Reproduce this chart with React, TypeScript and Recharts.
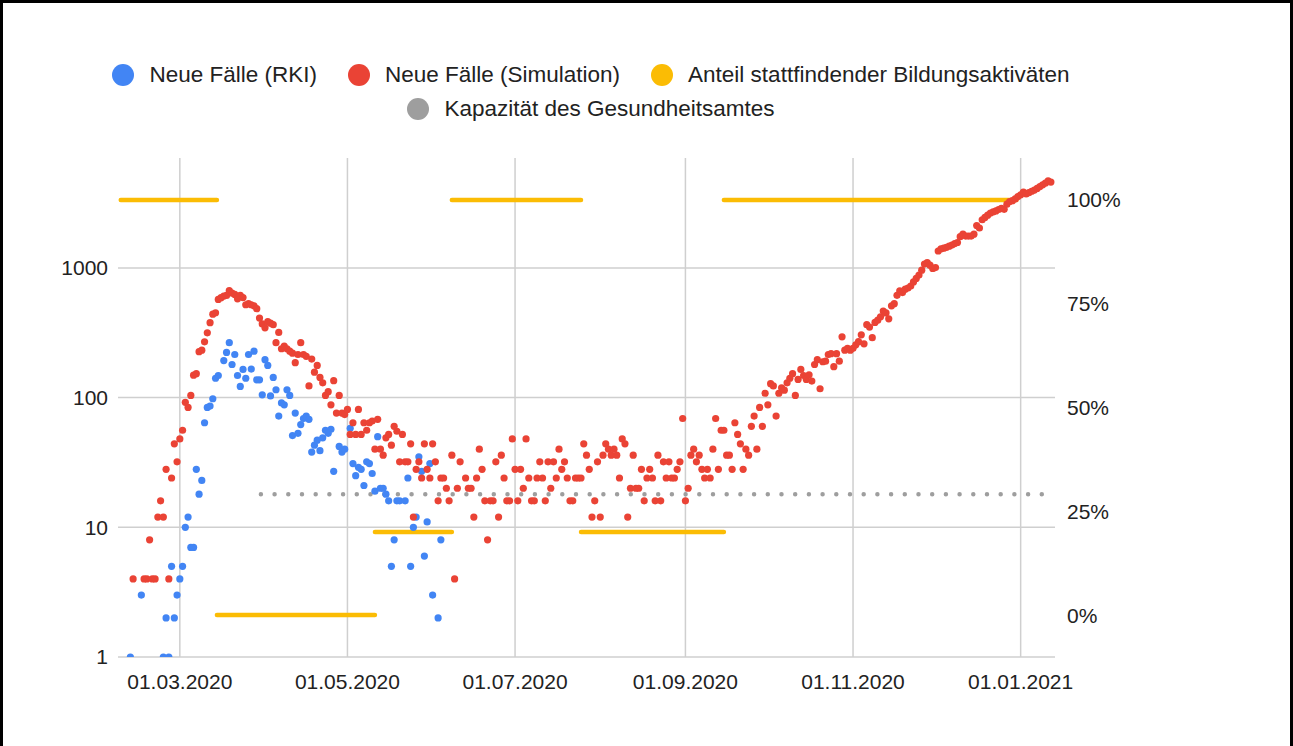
import React from 'react';
import { ComposedChart, Scatter, Line, XAxis, YAxis, CartesianGrid } from 'recharts';

// days are counted from 01.03.2020 (day 0)
const rkiFirstDay = -18;
const rkiCases = [
    1, null, null, null, 3, null, null, null, null, null, null, null, 1, 2, 1, 5, 2, 3,
    4, 5, 10, 12, 7, 7, 28, 18, 23, 64,
    84, 86, 98, 141, 148, null, 193, 223, 265, 180,
    215, 148, 122, 165, 141, 215, 166, 228, 137, 137,
    105, 196, 177, 103, 143, 115, 72, 91, 88, 115,
    104, 51, 76, 53, 62, 69, 72, 68, 38, 43,
    47, 39, 49, 56, 53, 57, 27, null, 42, 38,
    40, null, 58, 31, 25, 29, 28, 21, 32, 31,
    26, 19, 50, 20, 20, 18, 16, 5, 8, 16,
    16, null, 16, 24, 5, 10, 12, 35, 27, 6,
    11, 31, 3, null, 2, 8,
];

const simFirstDay = -17;
const simCases = [
    4, null, null, null, 4, 4, 8, 4, 4, 12, 16, 12, 28, 4, 24, 44, 32,
    48, 56, 92, 84, 104, 149, 153, 226, 232, 269,
    316, 378, 440, 451, 571, 589, 606, 613, 667, 640,
    624, 578, 613, 590, 520, 530, 520, 510, 485, 410,
    370, 345, 385, 375, 365, 265, 318, 238, 250, 238,
    228, 220, 186, 215, 265, 215, 208, 123, 198, 157,
    177, 143, 130, 104, 111, 88, 135, 76, 104, 76,
    74, 81, 52, 64, 52, 81, 52, 64, 56, 64,
    66, 40, 68, 40, 36, 49, 52, 43, 60, 55,
    32, 52, 32, 32, 44, 12, 28, 32, 24, 44,
    28, 24, 44, 32, 16, 24, 24, 20, 16, 36,
    4, 20, 32, null, 24, 20, 20, 12, 24, 40,
    28, 16, 8, 16, 16, 32, 12, 36, 24, 16,
    16, 48, 28, 16, 28, 20, 48, 24, 16, 16,
    24, 32, 24, 16, 32, 20, 32, 24, 40, 28,
    32, 24, 16, 16, 24, 24, 24, 44, 36, 28,
    12, 16, 32, 12, 36, 44, 40, 36, 40, 36,
    24, 48, 44, 12, 20, 36, 20, 20, 28, 16,
    24, 28, 24, 16, 36, 16, 32, 24, 32, 24,
    24, 28, 32, 69, 16, 20, 36, 40, 32, 36,
    28, 24, 28, 24, 40, 69, 28, 56, 56, 36,
    36, 28, 64, 52, 44, 28, 40, 36, 60, 72,
    40, 84, 60, 108, 88, 128, 123, 72, 108, 119,
    114, 130, 141, 153, 104, 138, 165, 148, 138, 150,
    134, 180, 196, 117, 189, 191, 215, 218, 173, 218,
    191, 294, 232, 240, 232, 240, 255, 270, 305, 260,
    365, 350, 290, 380, 395, 420, 465, 450, 405, 510,
    530, 615, 665, 645, 685, 700, 725, 780, 830, 880,
    960, 1070, 1100, 1050, 990, 1005, 1350, 1400, 1420, 1440,
    1470, 1500, 1540, 1570, 1740, 1820, 1760, 1760, 1760, 1820,
    2120, 2030, 2350, 2450, 2550, 2650, 2700, 2750, 2820, 2880,
    2830, 3100, 3250, 3300, 3400, 3550, 3660, 3840, 3720, 3800,
    3900, 3980, 4100, 4240, 4370, 4500, 4700, 4590,
];

// share of education activities taking place (%), as periods
const educationPeriods = [
    { from: -21.5, to: 13.5, share: 100 },
    { from: 13.5, to: 71, share: 0 },
    { from: 71, to: 99, share: 20 },
    { from: 99, to: 146, share: 100 },
    { from: 146, to: 198, share: 20 },
    { from: 198, to: 304.5, share: 100 },
];

const capacityFrom = 29.5;
const capacityTo = 314.5;
const capacityValue = 18;

const xTicks = [0, 61, 122, 184, 245, 306];
const xTickLabels = ['01.03.2020', '01.05.2020', '01.07.2020', '01.09.2020', '01.11.2020', '01.01.2021'];
const leftTicks = [1, 10, 100, 1000];
const rightTicks = [0, 25, 50, 75, 100];

const legendRows = [
    [
        { name: 'Neue Fälle (RKI)', color: '#4285F4' },
        { name: 'Neue Fälle (Simulation)', color: '#EA4335' },
        { name: 'Anteil stattfindender Bildungsaktiväten', color: '#FBBC04' },
    ],
    [{ name: 'Kapazität des Gesundheitsamtes', color: '#9E9E9E' }],
];

const toPoints = (first: number, values: (number | null)[]) =>
    values
        .map((v, i) => ({ day: first + i, cases: v }))
        .filter((p) => p.cases !== null);

const rkiData = toPoints(rkiFirstDay, rkiCases);
const simData = toPoints(simFirstDay, simCases);
const educationData = educationPeriods.flatMap((p) => [
    { day: p.from, share: p.share },
    { day: p.to, share: p.share },
    { day: p.to, share: null },
]);
const capacityData = [
    { day: capacityFrom, cap: capacityValue },
    { day: capacityTo, cap: capacityValue },
];

const font = '"Liberation Sans", Arial, sans-serif';
const tickStyle = { fontSize: 21, fill: '#222', fontFamily: font };

const dot = (color: string) => (props: any) =>
    <circle cx={props.cx} cy={props.cy} r={3.6} fill={color} />;

const App: React.FC = () => {
    return (
        <div style={{ position: 'absolute', left: 0, top: 0, width: 1293, height: 746, background: '#fff' }}>
            <ComposedChart
                width={1293}
                height={746}
                margin={{ top: 158, right: 158, bottom: 49, left: 58 }}
            >
                <CartesianGrid
                    yAxisId="left"
                    stroke="#cfcfcf"
                    strokeWidth={1.5}
                    horizontalValues={leftTicks}
                    verticalValues={xTicks}
                />
                <XAxis
                    dataKey="day"
                    type="number"
                    domain={[-22.5, 318.5]}
                    allowDataOverflow
                    ticks={xTicks}
                    tickFormatter={(d) => xTickLabels[xTicks.indexOf(d)] ?? ''}
                    tick={tickStyle}
                    axisLine={false}
                    tickLine={false}
                    tickSize={0}
                    tickMargin={17}
                    height={40}
                    interval={0}
                />
                <YAxis
                    yAxisId="left"
                    scale="log"
                    type="number"
                    domain={[1, 7036]}
                    allowDataOverflow
                    ticks={leftTicks}
                    tick={tickStyle}
                    axisLine={false}
                    tickLine={false}
                    tickSize={0}
                    tickMargin={10}
                    width={60}
                    interval={0}
                />
                <YAxis
                    yAxisId="right"
                    orientation="right"
                    type="number"
                    domain={[-10.1, 110.1]}
                    allowDataOverflow
                    ticks={rightTicks}
                    tickFormatter={(v) => `${v}%`}
                    tick={{ ...tickStyle, textAnchor: 'start' }}
                    axisLine={false}
                    tickLine={false}
                    tickSize={0}
                    tickMargin={12}
                    width={80}
                    interval={0}
                />
                <Line
                    yAxisId="left"
                    data={capacityData}
                    dataKey="cap"
                    stroke="#9E9E9E"
                    strokeWidth={4.5}
                    strokeDasharray="0 13.7"
                    strokeLinecap="round"
                    dot={false}
                    activeDot={false}
                    isAnimationActive={false}
                />
                <Line
                    yAxisId="right"
                    data={educationData}
                    dataKey="share"
                    stroke="#FBBC04"
                    strokeWidth={4.5}
                    strokeLinecap="round"
                    connectNulls={false}
                    dot={false}
                    activeDot={false}
                    isAnimationActive={false}
                />
                <Scatter
                    yAxisId="left"
                    data={rkiData}
                    dataKey="cases"
                    fill="#4285F4"
                    shape={dot('#4285F4')}
                    isAnimationActive={false}
                />
                <Scatter
                    yAxisId="left"
                    data={simData}
                    dataKey="cases"
                    fill="#EA4335"
                    shape={dot('#EA4335')}
                    isAnimationActive={false}
                />
            </ComposedChart>

            {legendRows.map((row, r) => (
                <div
                    key={r}
                    style={{
                        position: 'absolute',
                        left: 0,
                        width: 1182,
                        top: r === 0 ? 61 : 95,
                        height: 28,
                        display: 'flex',
                        justifyContent: 'center',
                        alignItems: 'center',
                        fontFamily: font,
                        fontSize: 22.5,
                        color: '#222',
                        whiteSpace: 'nowrap',
                    }}
                >
                    {row.map((item, i) => (
                        <div key={item.name} style={{ display: 'flex', alignItems: 'center', marginLeft: i === 0 ? 0 : 31 }}>
                            <span style={{ width: 22, height: 22, borderRadius: 11, background: item.color, marginRight: 15 }} />
                            <span>{item.name}</span>
                        </div>
                    ))}
                </div>
            ))}

            <div
                style={{
                    position: 'absolute',
                    left: 0,
                    top: 0,
                    width: 1293,
                    height: 746,
                    boxSizing: 'border-box',
                    borderTop: '3px solid #000',
                    borderLeft: '3px solid #000',
                    borderRight: '3px solid #000',
                    pointerEvents: 'none',
                }}
            />
        </div>
    );
};

export default App;
